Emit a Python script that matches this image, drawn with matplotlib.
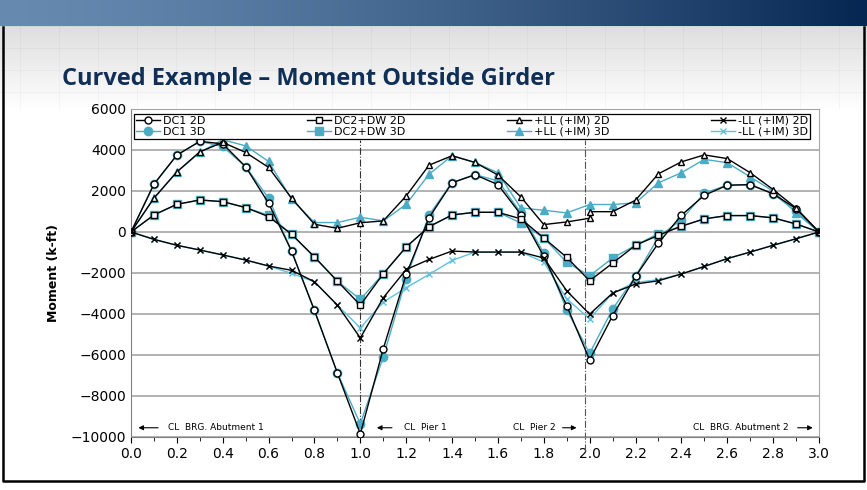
import numpy as np
import matplotlib.pyplot as plt
from matplotlib.lines import Line2D

# stations along the girder (span fraction)
x = [0.0, 0.1, 0.2, 0.3, 0.4, 0.5, 0.6, 0.7, 0.8, 0.9, 1.0,
     1.1, 1.2, 1.3, 1.4, 1.5, 1.6, 1.7, 1.8, 1.9, 2.0,
     2.1, 2.2, 2.3, 2.4, 2.5, 2.6, 2.7, 2.8, 2.9, 3.0]
# +LL 2D has two values at the pier 2 station
x_ll2d = x[:21] + [2.0] + x[21:]

dc1_2d = [0, 2330, 3750, 4420, 4300, 3180, 1400, -930, -3830, -6880, -9850,
          -5700, -2070, 700, 2400, 2790, 2310, 850, -1190, -3600, -6240,
          -4090, -2170, -540, 815, 1790, 2280, 2310, 1860, 1140, 0]
dc1_3d = [0, 2330, 3750, 4420, 4170, 3180, 1650, -930, -3830, -6880, -9360,
          -6100, -2270, 830, 2410, 2800, 2490, 930, -1030, -3800, -5920,
          -3760, -2170, -240, 600, 1900, 2280, 2310, 1860, 1010, 0]
dc2_2d = [0, 830, 1350, 1560, 1480, 1190, 750, -110, -1220, -2400, -3570,
          -2040, -730, 260, 830, 960, 960, 640, -290, -1240, -2380,
          -1520, -650, -160, 280, 640, 800, 800, 690, 390, 0]
dc2_3d = [0, 830, 1350, 1560, 1480, 1190, 815, -110, -1220, -2400, -3290,
          -2040, -730, 260, 830, 960, 960, 440, -290, -1480, -2140,
          -1270, -650, -80, 280, 640, 800, 800, 690, 390, 0]
llp_2d = [0, 1650, 2930, 3910, 4370, 3880, 3150, 1650, 375, 180, 450,
          540, 1760, 3260, 3720, 3390, 2780, 1710, 360, 490, 670, 990,
          990, 1550, 2840, 3420, 3760, 3580, 2890, 2070, 1170, 0]
llp_3d = [0, 1650, 2930, 3880, 4500, 4200, 3440, 1600, 460, 460, 720,
          540, 1350, 2820, 3720, 3390, 2890, 1170, 1060, 930, 1340,
          1340, 1420, 2400, 2890, 3540, 3380, 2690, 1990, 930, 0]
lln_2d = [0, -360, -650, -880, -1120, -1370, -1660, -1870, -2430, -3570, -5170,
          -3210, -1830, -1340, -930, -980, -980, -980, -1270, -2870, -4010,
          -2980, -2540, -2380, -2050, -1680, -1300, -980, -650, -330, 0]
lln_3d = [0, -360, -650, -880, -1120, -1370, -1660, -2020, -2430, -3570, -4680,
          -3420, -2720, -2070, -1390, -980, -980, -980, -1470, -3260, -4240,
          -2980, -2460, -2330, -2050, -1680, -1300, -980, -650, -330, 0]

blue3d = "#4bacc6"
navy = "#0f2f57"

fig = plt.figure(figsize=(8.67, 4.9), dpi=100)

# slide background: gradient header band + faint grid fading to white
bg = fig.add_axes([0, 0, 1, 1], zorder=-5)
H, W = 490, 867
img = np.ones((H, W, 3))
t = np.linspace(0, 1, W)
left_c = np.array([0.40, 0.54, 0.69])
right_c = np.array([0.02, 0.15, 0.32])
band = left_c[None, :] * (1 - t[:, None] ** 1.4) + right_c[None, :] * (t[:, None] ** 1.4)
img[:27] = band[None, :, :]
rows = np.arange(27, 110)
fade = 0.87 + 0.13 * (rows - 27) / (110 - 27)
img[27:110] = fade[:, None, None]
for gx in range(20, W, 39):
    img[27:110, gx] *= 0.97
for gy in range(27, 110, 22):
    img[gy] *= 0.97
img[27:110] = np.clip(img[27:110], 0, 1)
bg.imshow(img, aspect="auto", extent=[0, 1, 0, 1])
bg.axis("off")
# slide frame below the header (left, bottom, right)
frame_kw = dict(transform=fig.transFigure, color="black", lw=1.8, zorder=-4)
fig.add_artist(Line2D([0.003, 0.003, 0.997, 0.997], [0.945, 0.018, 0.018, 0.945], **frame_kw))

fig.text(0.0715, 0.838, "Curved Example \u2013 Moment Outside Girder", fontsize=17,
         fontweight="bold", color=navy, family="Open Sans", va="center")

ax = fig.add_axes([0.1511, 0.1082, 0.7935, 0.6694])
ax.set_facecolor("white")

mk = dict(lw=1.0)
ax.plot(x, dc1_2d, color="black", marker="o", ms=5, mfc="white", mec="black", label="DC1 2D", zorder=4, **mk)
ax.plot(x, dc1_3d, color=blue3d, marker="o", ms=6, mfc=blue3d, mec=blue3d, label="DC1 3D", zorder=3, **mk)
ax.plot(x, dc2_2d, color="black", marker="s", ms=5, mfc="white", mec="black", label="DC2+DW 2D", zorder=4, **mk)
ax.plot(x, dc2_3d, color=blue3d, marker="s", ms=6, mfc=blue3d, mec=blue3d, label="DC2+DW 3D", zorder=3, **mk)
ax.plot(x_ll2d, llp_2d, color="black", marker="^", ms=5, mfc="white", mec="black", label="+LL (+IM) 2D", zorder=4, **mk)
ax.plot(x, llp_3d, color=blue3d, marker="^", ms=6, mfc=blue3d, mec=blue3d, label="+LL (+IM) 3D", zorder=3, **mk)
ax.plot(x, lln_2d, color="black", marker="x", ms=5, mew=1.0, label="-LL (+IM) 2D", zorder=4, **mk)
ax.plot(x, lln_3d, color="#5ec3e0", marker="x", ms=5, mew=1.0, label="-LL (+IM) 3D", zorder=3, **mk)

# pier centerlines
ax.plot([1.0, 1.0], [-10000, 4500], color="#333333", lw=0.8, ls="-.", zorder=2)
ax.plot([1.98, 1.98], [-10700, 4500], color="#555555", lw=0.8, ls="-.", zorder=2, clip_on=False)

ax.set_xlim(0, 3.0)
ax.set_ylim(-10000, 6000)
ax.set_xticks(np.arange(0, 3.01, 0.2))
ax.set_xticks(np.arange(0, 3.01, 0.1), minor=True)
ax.set_xticklabels([f"{v:.1f}" for v in np.arange(0, 3.01, 0.2)])
ax.set_yticks(np.arange(-10000, 6001, 2000))
ax.tick_params(axis="both", labelsize=10, length=4, colors="black")
ax.tick_params(axis="x", which="minor", length=3)
ax.tick_params(axis="y", length=0)
ax.grid(axis="y", color="#a6a6a6", lw=1.2)
ax.set_axisbelow(True)
for s in ["top", "right"]:
    ax.spines[s].set_color("#a6a6a6")
ax.spines["left"].set_color("#808080")
ax.spines["bottom"].set_color("#808080")
ax.set_ylabel("Moment (k-ft)", fontsize=9, fontweight="bold", labelpad=8)

# support annotations
ann = dict(fontsize=6.5, va="center")
yA = -9550
arr = dict(arrowstyle="-|>", color="black", lw=0.8, mutation_scale=7)
ax.annotate("", xy=(0.02, yA), xytext=(0.13, yA), arrowprops=arr)
ax.text(0.16, yA, "CL  BRG. Abutment 1", **ann)
ax.annotate("", xy=(1.06, yA), xytext=(1.15, yA), arrowprops=arr)
ax.text(1.19, yA, "CL  Pier 1", **ann)
ax.text(1.665, yA, "CL  Pier 2", **ann)
ax.annotate("", xy=(1.955, yA), xytext=(1.87, yA), arrowprops=arr)
ax.text(2.45, yA, "CL  BRG. Abutment 2", **ann)
ax.annotate("", xy=(2.985, yA), xytext=(2.895, yA), arrowprops=arr)

leg = ax.legend(loc="upper left", ncol=4, mode="expand", bbox_to_anchor=(-0.004, 0.915, 0.999, 0.088),
                fontsize=8, frameon=True, fancybox=False, edgecolor="black", framealpha=1,
                borderpad=0.2, labelspacing=0.1, handlelength=2.2, handletextpad=0.2)
leg.get_frame().set_linewidth(0.9)
leg.set_zorder(6)

fig.savefig("out.png", dpi=100)
